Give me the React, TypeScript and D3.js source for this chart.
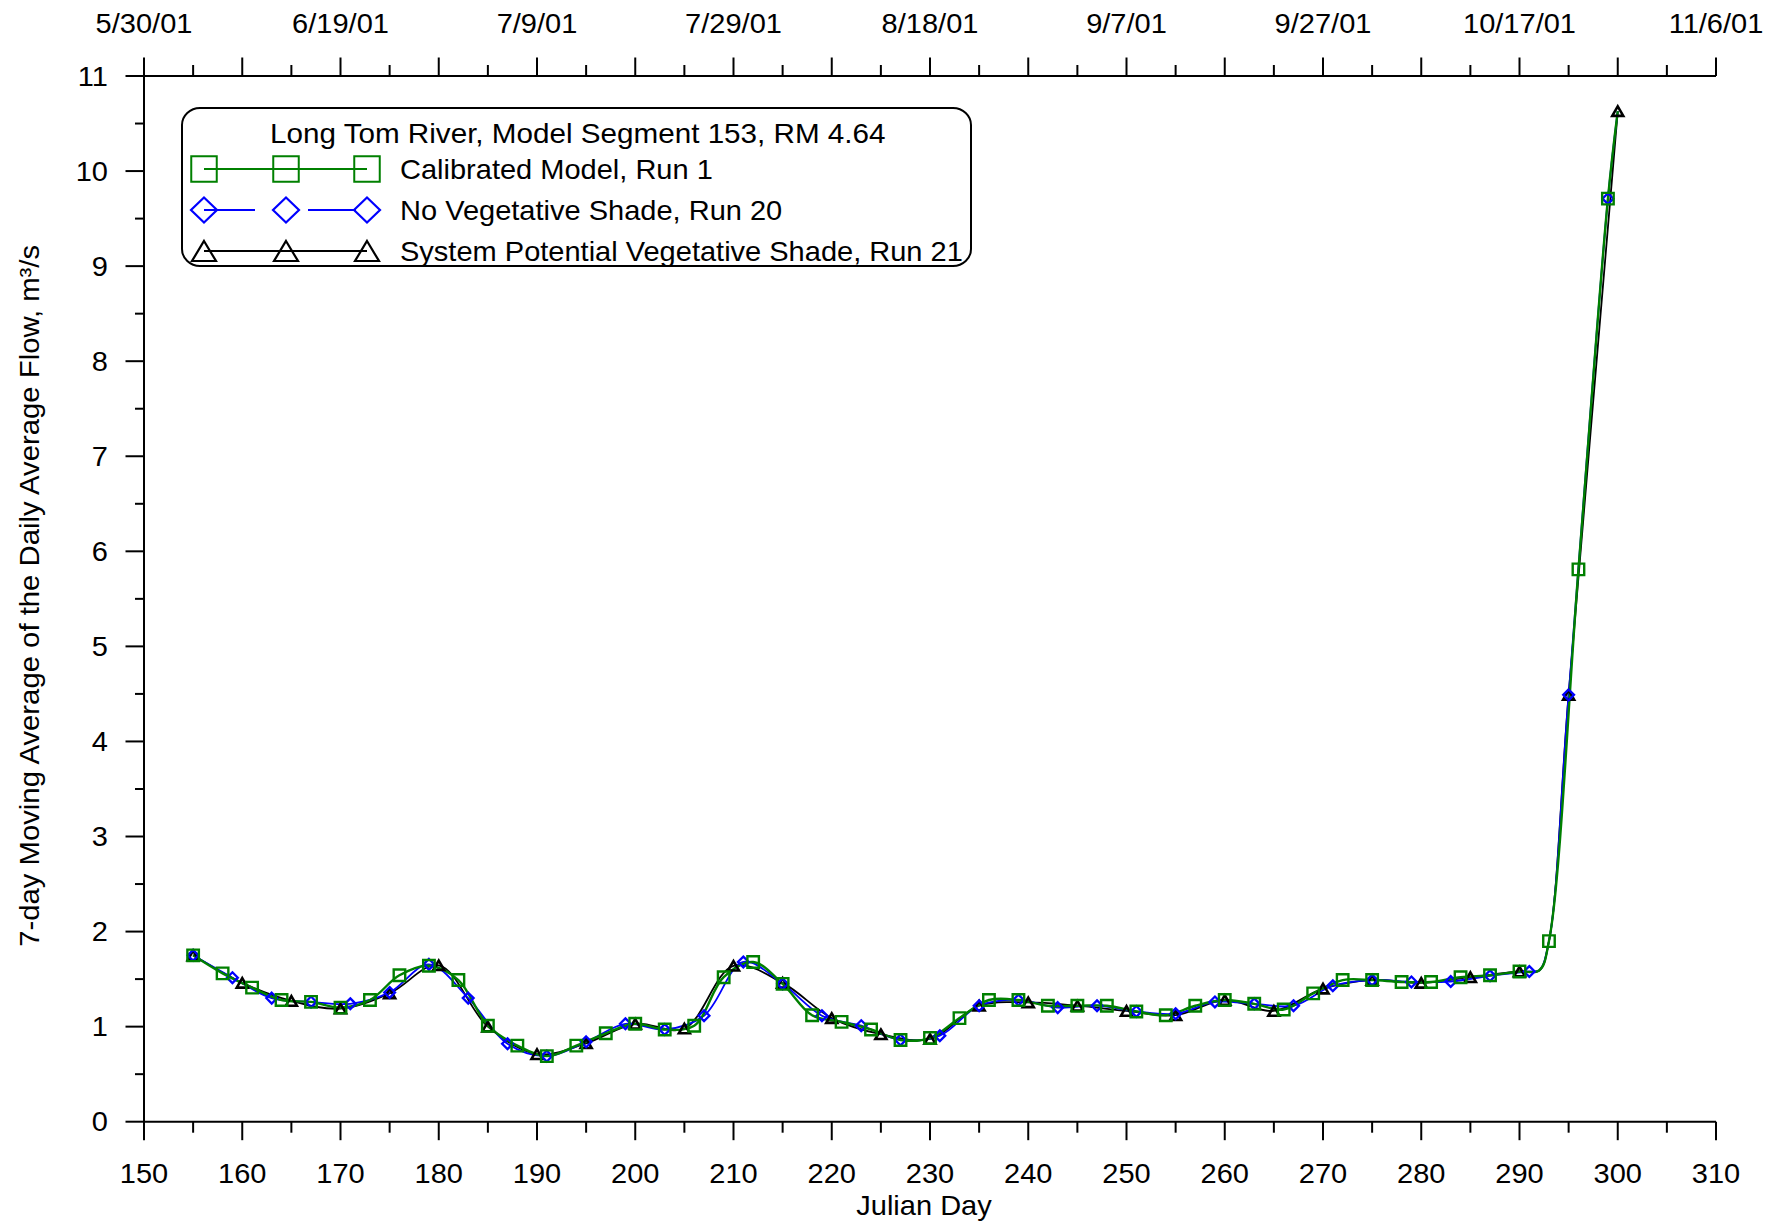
import React from "react";
import * as d3 from "d3";

// ---- data ----
const calibratedDays = [155, 158, 161, 164, 167, 170, 173, 176, 179, 182, 185, 188, 191, 194, 197, 200, 203, 206, 209, 212, 215, 218, 221, 224, 227, 230, 233, 236, 239, 242, 245, 248, 251, 254, 257, 260, 263, 266, 269, 272, 275, 278, 281, 284, 287, 290, 293, 296, 299];
const calibratedFlow = [1.75, 1.56, 1.41, 1.28, 1.26, 1.2, 1.28, 1.54, 1.64, 1.49, 1.01, 0.8, 0.69, 0.8, 0.93, 1.03, 0.97, 1.01, 1.52, 1.68, 1.45, 1.12, 1.05, 0.97, 0.86, 0.88, 1.09, 1.28, 1.28, 1.22, 1.22, 1.22, 1.16, 1.12, 1.22, 1.28, 1.24, 1.18, 1.35, 1.49, 1.49, 1.47, 1.47, 1.52, 1.54, 1.58, 1.9, 5.81, 9.71];

const noShadeDays = [155, 159, 163, 167, 171, 175, 179, 183, 187, 191, 195, 199, 203, 207, 211, 215, 219, 223, 227, 231, 235, 239, 243, 247, 251, 255, 259, 263, 267, 271, 275, 279, 283, 287, 291, 295, 299];
const noShadeFlow = [1.75, 1.515, 1.3, 1.26, 1.24, 1.36, 1.655, 1.3, 0.82, 0.69, 0.84, 1.03, 0.97, 1.115, 1.68, 1.45, 1.115, 1.01, 0.86, 0.905, 1.22, 1.28, 1.2, 1.22, 1.16, 1.135, 1.26, 1.24, 1.22, 1.43, 1.49, 1.47, 1.475, 1.535, 1.58, 4.49, 9.71];

const potentialDays = [155, 160, 165, 170, 175, 180, 185, 190, 195, 200, 205, 210, 215, 220, 225, 230, 235, 240, 245, 250, 255, 260, 265, 270, 275, 280, 285, 290, 295, 300];
const potentialFlow = [1.75, 1.46, 1.27, 1.19, 1.35, 1.645, 1.0, 0.71, 0.825, 1.03, 0.98, 1.64, 1.46, 1.09, 0.92, 0.87, 1.22, 1.255, 1.22, 1.165, 1.12, 1.28, 1.165, 1.4, 1.49, 1.46, 1.52, 1.58, 4.49, 10.63];

// unmarked line points (knee before the rise, and line end)
const calibratedLineOnlyDays = [292, 300];
const calibratedLineOnlyFlow = [1.59, 10.63];
const noShadeLineOnlyDays = [292, 293, 300];
const noShadeLineOnlyFlow = [1.59, 1.9, 10.63];
const potentialLineOnlyDays = [292, 293];
const potentialLineOnlyFlow = [1.59, 1.9];

const bottomTicks = [150, 160, 170, 180, 190, 200, 210, 220, 230, 240, 250, 260, 270, 280, 290, 300, 310];
const minorXTicks = [155, 165, 175, 185, 195, 205, 215, 225, 235, 245, 255, 265, 275, 285, 295, 305];
const topLabelDays = [150, 170, 190, 210, 230, 250, 270, 290, 310];
const topLabels = ["5/30/01", "6/19/01", "7/9/01", "7/29/01", "8/18/01", "9/7/01", "9/27/01", "10/17/01", "11/6/01"];
const yTicks = [0, 1, 2, 3, 4, 5, 6, 7, 8, 9, 10, 11];
const yMinorTicks = [0.5, 1.5, 2.5, 3.5, 4.5, 5.5, 6.5, 7.5, 8.5, 9.5, 10.5];

const legendTitle = "Long Tom River, Model Segment 153, RM 4.64";
const seriesNames = ["Calibrated Model, Run 1", "No Vegetative Shade, Run 20", "System Potential Vegetative Shade, Run 21"];
const xTitle = "Julian Day";
const yTitle = "7-day Moving Average of the Daily Average Flow, m\u00B3/s";

// ---- style ----
const GREEN = "#008000";
const BLUE = "#0000FF";
const BLACK = "#000000";
const FONT = "'Liberation Sans', Arial, Helvetica, sans-serif";
const FS = 27;
const SX = 1.075;

const W = 1782;
const H = 1223;
const L = 144, R = 1716, T = 76, B = 1121.7;

function Txt({ x, y, anchor = "start", rotate = 0, children, size = FS, sx = SX }: any) {
  const tr = `translate(${x},${y})${rotate ? ` rotate(${rotate})` : ""} scale(${sx},1)`;
  return (
    <text transform={tr} textAnchor={anchor} fontFamily={FONT} fontSize={size} fill="#000">
      {children}
    </text>
  );
}

const squarePath = (cx: number, cy: number, s: number) =>
  `M${cx - s / 2},${cy - s / 2}h${s}v${s}h${-s}Z`;
const diamondPath = (cx: number, cy: number, w: number, h: number) =>
  `M${cx},${cy - h}L${cx + w},${cy}L${cx},${cy + h}L${cx - w},${cy}Z`;
const trianglePath = (cx: number, cy: number, w: number, h: number) =>
  `M${cx},${cy - h / 2}L${cx + w / 2},${cy + h / 2}L${cx - w / 2},${cy + h / 2}Z`;

function pts(days: number[], vals: number[]): [number, number][] {
  return days.map((d, i) => [d, vals[i]] as [number, number]);
}

export default function App() {
  const x = d3.scaleLinear().domain([150, 310]).range([L, R]);
  const y = d3.scaleLinear().domain([0, 11]).range([B, T]);
  const line = d3
    .line<[number, number]>()
    .x((d) => x(d[0]))
    .y((d) => y(d[1]))
    .curve(d3.curveCatmullRom.alpha(0.5));

  const calPts = pts(calibratedDays, calibratedFlow);
  const nsPts = pts(noShadeDays, noShadeFlow);
  const spPts = pts(potentialDays, potentialFlow);
  const byDay = (a: [number, number], b: [number, number]) => a[0] - b[0];
  const calLine = [...calPts, ...pts(calibratedLineOnlyDays, calibratedLineOnlyFlow)].sort(byDay);
  const nsLine = [...nsPts, ...pts(noShadeLineOnlyDays, noShadeLineOnlyFlow)].sort(byDay);
  const spLine = [...spPts, ...pts(potentialLineOnlyDays, potentialLineOnlyFlow)].sort(byDay);

  const lgX = [204, 286, 367];
  const lgY = [169, 210, 251];

  return (
    <svg
      width={W}
      height={H}
      viewBox={`0 0 ${W} ${H}`}
      style={{ position: "fixed", left: 0, top: 0, background: "#fff" }}
    >
      <rect x={0} y={0} width={W} height={H} fill="#fff" />

      {/* axes */}
      <g stroke="#000" strokeWidth={2} fill="none">
        <line x1={L} y1={B} x2={R} y2={B} />
        <line x1={L} y1={T} x2={R} y2={T} />
        <line x1={L} y1={T} x2={L} y2={B} />
        {bottomTicks.map((v) => (
          <line key={"bt" + v} x1={x(v)} x2={x(v)} y1={B} y2={B + 18.5} />
        ))}
        {minorXTicks.map((v) => (
          <line key={"bm" + v} x1={x(v)} x2={x(v)} y1={B} y2={B + 11} />
        ))}
        {bottomTicks.map((v) => (
          <line key={"tt" + v} x1={x(v)} x2={x(v)} y1={T} y2={T - 18.5} />
        ))}
        {minorXTicks.map((v) => (
          <line key={"tm" + v} x1={x(v)} x2={x(v)} y1={T} y2={T - 11} />
        ))}
        {yTicks.map((v) => (
          <line key={"yt" + v} x1={L - 18.5} x2={L} y1={y(v)} y2={y(v)} />
        ))}
        {yMinorTicks.map((v) => (
          <line key={"ym" + v} x1={L - 9} x2={L} y1={y(v)} y2={y(v)} />
        ))}
      </g>

      {/* tick labels */}
      {bottomTicks.map((v) => (
        <Txt key={"bl" + v} x={x(v)} y={1183} anchor="middle">
          {String(v)}
        </Txt>
      ))}
      {topLabelDays.map((v, i) => (
        <Txt key={"tl" + v} x={x(v)} y={33} anchor="middle">
          {topLabels[i]}
        </Txt>
      ))}
      {yTicks.map((v) => (
        <Txt key={"yl" + v} x={108} y={y(v) + 0.358 * FS} anchor="end">
          {String(v)}
        </Txt>
      ))}

      {/* axis titles */}
      <Txt x={924} y={1215} anchor="middle">
        {xTitle}
      </Txt>
      <Txt x={39} y={(T + B) / 2 - 3} anchor="middle" rotate={-90} sx={1.085}>
        {yTitle}
      </Txt>

      {/* lines */}
      <path d={line(spLine) || ""} fill="none" stroke={BLACK} strokeWidth={1.8} />
      <path d={line(nsLine) || ""} fill="none" stroke={BLUE} strokeWidth={1.8} />
      <path d={line(calLine) || ""} fill="none" stroke={GREEN} strokeWidth={2.4} />

      {/* markers */}
      <g fill="none" stroke={BLACK} strokeWidth={2.6} strokeLinejoin="miter">
        {spPts.map((p, i) => (
          <path key={"sp" + i} d={trianglePath(x(p[0]), y(p[1]), 11, 9.5)} />
        ))}
      </g>
      <g fill="none" stroke={BLUE} strokeWidth={2.3}>
        {nsPts.map((p, i) => (
          <path key={"ns" + i} d={diamondPath(x(p[0]), y(p[1]), 5.4, 5.4)} />
        ))}
      </g>
      <g fill="none" stroke={GREEN} strokeWidth={2.4}>
        {calPts.map((p, i) => (
          <path key={"cal" + i} d={squarePath(x(p[0]), y(p[1]), 11.5)} />
        ))}
      </g>

      {/* legend */}
      <rect x={182} y={108} width={789} height={158} rx={18} ry={17} fill="#fff" stroke="#000" strokeWidth={2} />
      <Txt x={270} y={143} sx={1.098}>{legendTitle}</Txt>

      <line x1={lgX[0]} x2={lgX[2]} y1={lgY[0]} y2={lgY[0]} stroke={GREEN} strokeWidth={2} />
      {lgX.map((cx) => (
        <path key={"lgs" + cx} d={squarePath(cx, lgY[0], 25.5)} fill="none" stroke={GREEN} strokeWidth={2} />
      ))}
      <Txt x={400} y={lgY[0] + 10}>{seriesNames[0]}</Txt>

      <line x1={lgX[0]} x2={255} y1={lgY[1]} y2={lgY[1]} stroke={BLUE} strokeWidth={2} />
      <line x1={308} x2={356} y1={lgY[1]} y2={lgY[1]} stroke={BLUE} strokeWidth={2} />
      {lgX.map((cx) => (
        <path key={"lgd" + cx} d={diamondPath(cx, lgY[1], 13, 12.5)} fill="none" stroke={BLUE} strokeWidth={2.2} />
      ))}
      <Txt x={400} y={lgY[1] + 10}>{seriesNames[1]}</Txt>

      <line x1={lgX[0]} x2={lgX[2]} y1={lgY[2]} y2={lgY[2]} stroke={BLACK} strokeWidth={2} />
      {lgX.map((cx) => (
        <path key={"lgt" + cx} d={trianglePath(cx, lgY[2], 24, 20)} fill="none" stroke={BLACK} strokeWidth={2.2} />
      ))}
      <Txt x={400} y={lgY[2] + 10}>{seriesNames[2]}</Txt>
    </svg>
  );
}
